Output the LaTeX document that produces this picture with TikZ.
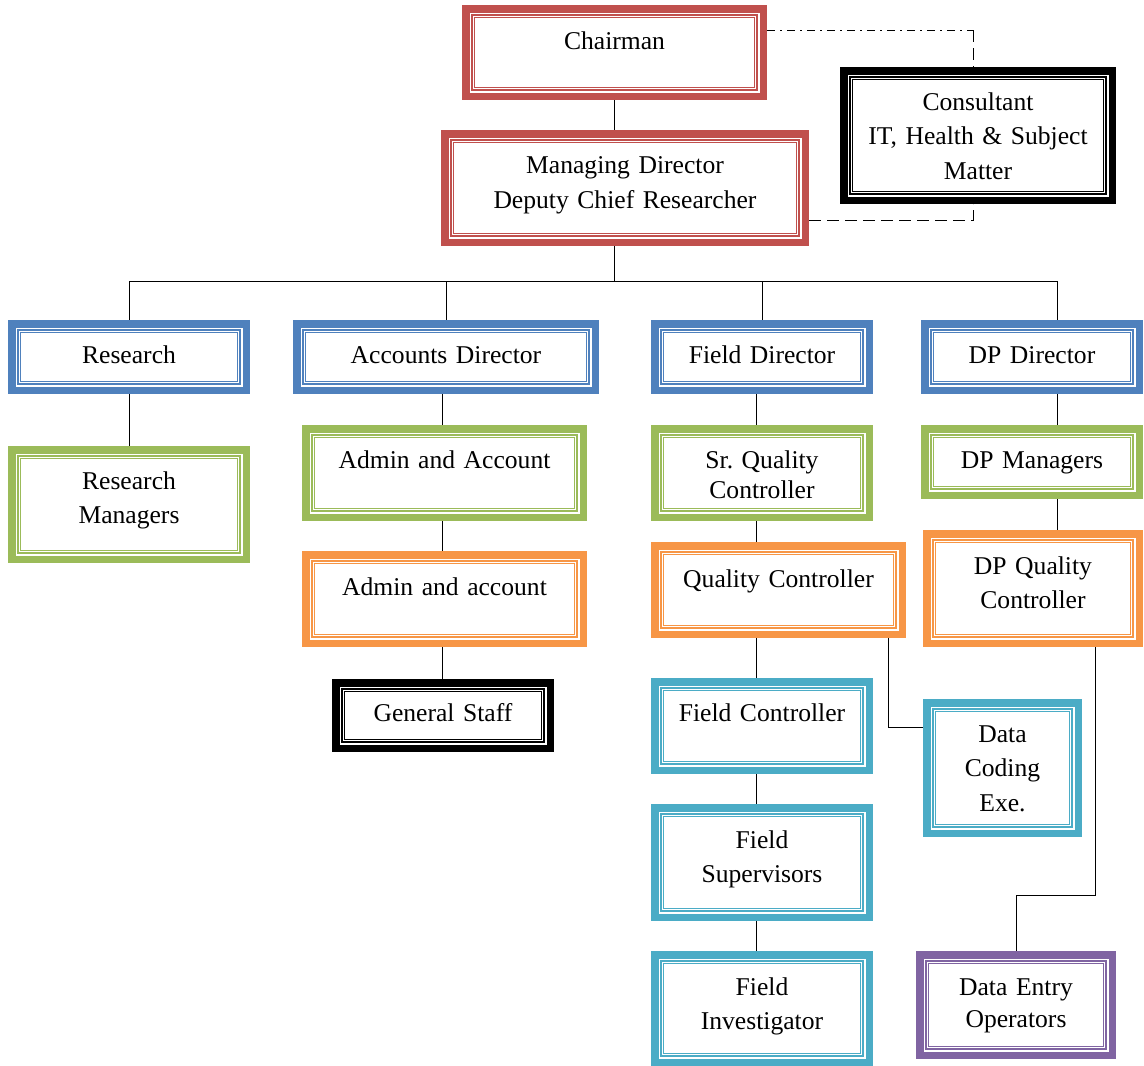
\documentclass[tikz,border=0pt]{standalone}
\usepackage{fontspec}
\setmainfont{Liberation Serif}
\usetikzlibrary{backgrounds}

\definecolor{boxred}{HTML}{C0504D}
\definecolor{boxblue}{HTML}{4F81BD}
\definecolor{boxgreen}{HTML}{9BBB59}
\definecolor{boxorange}{HTML}{F79646}
\definecolor{boxcyan}{HTML}{4BACC6}
\definecolor{boxpurple}{HTML}{8064A2}

\begin{document}
\frenchspacing
\begin{tikzpicture}[x=1pt,y=-1pt,
    orgbox/.style={draw=#1, line width=7.5pt, fill=white, inner sep=0pt,
      align=center, text height=18pt,
      font=\fontsize{25.6pt}{34.5pt}\selectfont,
      path picture={\draw[#1, line width=1.3pt, double=white, double distance=1pt]
        ([shift={(7.5pt,7.5pt)}]path picture bounding box.south west) rectangle
        ([shift={(-7.5pt,-7.5pt)}]path picture bounding box.north east);}},
    link/.style={line width=1.5pt},
    dashdotlink/.style={dash pattern=on 8pt off 5pt on 2pt off 5pt},
    dashlink/.style={dash pattern=on 12pt off 6pt}]
    \useasboundingbox (0,0) rectangle (1144,1066);

    % Top of the chart
    \node[orgbox=boxred, minimum width=297.5pt, minimum height=87.5pt, text width=270pt, text depth=25pt] (chair) at (614.5,52.5) {Chairman};
    \node[orgbox=boxred, minimum width=360.5pt, minimum height=108.5pt, text width=330pt, text depth=47pt] (md) at (625,188) {Managing Director\\Deputy Chief Researcher};
    \node[orgbox=black, minimum width=268.5pt, minimum height=129.5pt, text width=245pt, text depth=69pt] (cons) at (978,135.5) {Consultant\\IT, Health \& Subject\\Matter};

    % Directors
    \node[orgbox=boxblue, minimum width=234.5pt, minimum height=66.5pt, text width=210pt, text depth=6pt] (res) at (129,357) {Research};
    \node[orgbox=boxblue, minimum width=298.5pt, minimum height=66.5pt, text width=270pt, text depth=6pt] (acc) at (446,357) {Accounts Director};
    \node[orgbox=boxblue, minimum width=214.5pt, minimum height=66.5pt, text width=190pt, text depth=6pt] (fdir) at (762,357) {Field Director};
    \node[orgbox=boxblue, minimum width=214.5pt, minimum height=66.5pt, text width=190pt, text depth=6pt] (dpdir) at (1032,357) {DP Director};

    % Research column
    \node[orgbox=boxgreen, minimum width=234.5pt, minimum height=109.5pt, text width=210pt, text depth=49pt] (resman) at (129,504.5) {Research\\Managers};

    % Accounts column
    \node[orgbox=boxgreen, minimum width=277.5pt, minimum height=88.5pt, text width=250pt, text depth=28pt] (admin1) at (444.5,473) {Admin and Account};
    \node[orgbox=boxorange, minimum width=277.5pt, minimum height=88.5pt, text width=250pt, text depth=26pt] (admin2) at (444.5,599) {Admin and account};
    \node[orgbox=black, minimum width=214.5pt, minimum height=65.5pt, text width=190pt, text depth=7pt] (staff) at (443,715.5) {General Staff};

    % Field column
    \node[orgbox=boxgreen, minimum width=214.5pt, minimum height=88.5pt, text width=190pt, text depth=28pt] (srqc) at (762,473) {Sr. Quality\\[-4pt]Controller};
    \node[orgbox=boxorange, minimum width=247.5pt, minimum height=88.5pt, text width=225pt, text depth=24pt] (qc) at (778.5,590) {Quality Controller};
    \node[orgbox=boxcyan, minimum width=214.5pt, minimum height=88.5pt, text width=190pt, text depth=28pt] (fc) at (762,726) {Field Controller};
    \node[orgbox=boxcyan, minimum width=214.5pt, minimum height=109.5pt, text width=190pt, text depth=47pt] (fs) at (762,862.5) {Field\\Supervisors};
    \node[orgbox=boxcyan, minimum width=214.5pt, minimum height=107.5pt, text width=190pt, text depth=45pt] (fi) at (762,1008.5) {Field\\Investigator};

    % DP column
    \node[orgbox=boxgreen, minimum width=214.5pt, minimum height=66.5pt, text width=190pt, text depth=6pt] (dpman) at (1032,462) {DP Managers};
    \node[orgbox=boxorange, minimum width=212.5pt, minimum height=109.5pt, text width=190pt, text depth=47pt] (dpqc) at (1033,588.5) {DP Quality\\Controller};
    \node[orgbox=boxcyan, minimum width=151.5pt, minimum height=130.5pt, text width=130pt, text depth=70pt] (dce) at (1002.5,768) {Data\\Coding\\Exe.};
    \node[orgbox=boxpurple, minimum width=192.5pt, minimum height=100.5pt, text width=170pt, text depth=38pt] (deo) at (1016,1005) {Data Entry\\[-2.5pt]Operators};

    % Turning points of the connectors
    \coordinate (bus) at (614.5,281.5);
    \coordinate (ax) at (442,0);
    \coordinate (fx) at (756,0);
    \coordinate (dpx) at (1057.5,0);
    \coordinate (dcx) at (888,727);
    \coordinate (dex) at (1095,895);
    \coordinate (cc) at (973,30);
    \coordinate (mc) at (973,220);

    \begin{scope}[on background layer, link]
        \draw (chair.south -| bus) -- (md.north -| bus);
        \draw (md.south -| bus) -- (bus);
        \draw (bus -| res.north) -- (bus -| dpx);
        \draw (bus -| res.north) -- (res.north);
        \draw (bus -| acc.north) -- (acc.north);
        \draw (bus -| fdir.north) -- (fdir.north);
        \draw (bus -| dpx) -- (dpdir.north -| dpx);

        \draw (res.south) -- (resman.north);

        \draw (acc.south -| ax) -- (admin1.north -| ax);
        \draw (admin1.south -| ax) -- (admin2.north -| ax);
        \draw (admin2.south -| ax) -- (staff.north -| ax);

        \draw (fdir.south -| fx) -- (srqc.north -| fx);
        \draw (srqc.south -| fx) -- (qc.north -| fx);
        \draw (qc.south -| fx) -- (fc.north -| fx);
        \draw (fc.south -| fx) -- (fs.north -| fx);
        \draw (fs.south -| fx) -- (fi.north -| fx);
        \draw (qc.south -| dcx) |- (dce.west |- dcx);

        \draw (dpdir.south -| dpx) -- (dpman.north -| dpx);
        \draw (dpman.south -| dpx) -- (dpqc.north -| dpx);
        \draw (dpqc.south -| dex) -- (dex) -| (deo.north);

        \draw[dashdotlink] (chair.east |- cc) -- (cc);
        \draw[dashlink] (cc) -- (cc |- cons.north);
        \draw[dashlink] (md.east |- mc) -| (cons.south -| mc);
    \end{scope}
\end{tikzpicture}
\end{document}
